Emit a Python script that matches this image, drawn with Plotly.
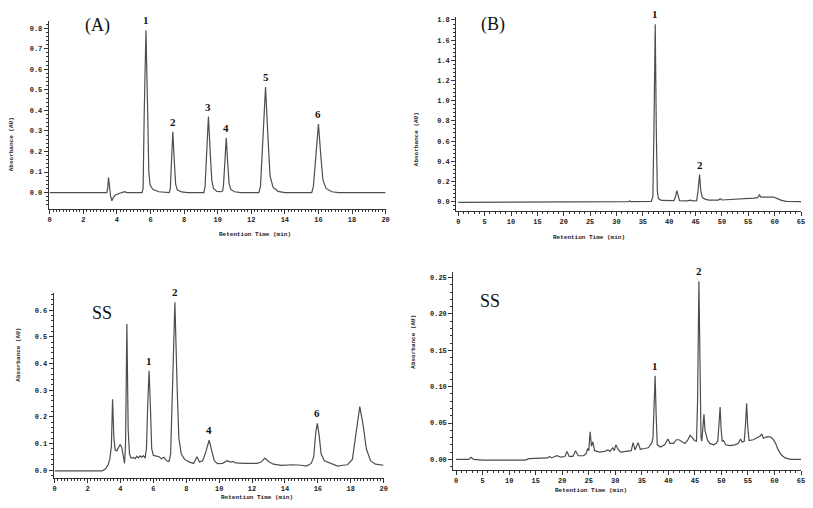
import plotly.graph_objects as go

# ---------------- data ----------------
# Panel (A): standards, 0-20 min
A_time = [0, 3.4, 3.45, 3.5, 3.56, 3.62, 3.7, 3.78, 3.9, 4.1, 4.3, 4.45, 4.6,
          5.5, 5.56, 5.63, 5.73, 5.83, 5.9, 5.98, 6.15, 6.5, 7.0,
          7.12, 7.18, 7.24, 7.33, 7.42, 7.5, 7.6, 7.85, 8.2,
          9.18, 9.25, 9.34, 9.45, 9.56, 9.65, 9.75, 9.95, 10.2,
          10.3, 10.35, 10.42, 10.51, 10.6, 10.68, 10.78, 11.0, 11.4,
          12.45, 12.55, 12.7, 12.85, 13.0, 13.12, 13.3, 13.6, 14.0,
          15.6, 15.7, 15.85, 16.0, 16.15, 16.27, 16.45, 16.8, 17.2, 20]
A_abs = [0, 0, 0.02, 0.073, 0.03, -0.015, -0.04, -0.025, -0.012, -0.004, 0.0, 0.004, 0.0,
         0.0, 0.02, 0.4, 0.79, 0.4, 0.1, 0.035, 0.015, 0.004, 0.0,
         0.0, 0.02, 0.15, 0.296, 0.15, 0.04, 0.012, 0.003, 0.0,
         0.0, 0.03, 0.19, 0.37, 0.19, 0.06, 0.02, 0.006, 0.004,
         0.008, 0.04, 0.14, 0.266, 0.14, 0.045, 0.015, 0.004, 0.0,
         0.0, 0.03, 0.26, 0.514, 0.26, 0.08, 0.025, 0.006, 0.0,
         0.0, 0.03, 0.17, 0.333, 0.17, 0.06, 0.02, 0.004, 0.0, 0.0]
A_peak_labels = ["1", "2", "3", "4", "5", "6"]
A_peak_time = [5.73, 7.33, 9.45, 10.51, 12.85, 16.0]
A_peak_abs = [0.79, 0.296, 0.37, 0.266, 0.514, 0.333]

# Panel (B): standards, 0-65 min
B_time = [0, 2.8, 3.0, 3.2, 18.0, 18.1, 32.3, 32.5, 32.7, 36.6, 36.9, 37.1, 37.35, 37.55,
          37.75, 37.95, 38.5, 40.9, 41.2, 41.45, 41.7, 41.95, 43.5, 44.0, 44.5, 45.2,
          45.45, 45.75, 46.0, 46.3, 46.8, 47.5, 49.3, 49.7, 50.0, 52, 54, 56, 56.8,
          57.1, 57.4, 58, 59, 59.8, 60.5, 61.3, 62.2, 63, 65]
B_abs = [-0.007, -0.007, 0.0, -0.007, -0.007, -0.001, 0.0, 0.006, 0.0, 0.002, 0.05, 0.7, 1.757, 0.7,
         0.1, 0.03, 0.012, 0.01, 0.05, 0.109, 0.05, 0.01, 0.008, 0.015, 0.008, 0.01,
         0.1, 0.267, 0.1, 0.04, 0.025, 0.015, 0.015, 0.028, 0.016, 0.02, 0.028, 0.035, 0.04,
         0.066, 0.045, 0.045, 0.05, 0.045, 0.03, 0.012, 0.002, 0.0, 0.0]
B_peak_labels = ["1", "2"]
B_peak_time = [37.35, 45.75]
B_peak_abs = [1.757, 0.267]

# Panel SS (left): sample, 0-20 min
C_time = [0, 2.9, 3.1, 3.25, 3.35, 3.45, 3.52, 3.6, 3.68, 3.78, 3.88, 3.98, 4.08, 4.18, 4.25,
          4.31, 4.39, 4.47, 4.55, 4.65, 4.8, 4.9, 5.0, 5.1, 5.2, 5.3, 5.4, 5.5, 5.58, 5.66,
          5.74, 5.82, 5.9, 6.0, 6.2, 6.35, 6.5, 6.65, 6.8, 6.95, 7.05, 7.15, 7.31, 7.45,
          7.55, 7.7, 7.9, 8.2, 8.45, 8.65, 8.8, 9.0, 9.2, 9.39, 9.55, 9.7, 9.9, 10.2, 10.5,
          10.7, 10.85, 11.0, 11.5, 12.3, 12.55, 12.78, 13.0, 13.3, 13.8, 14.5, 15.0, 15.3,
          15.6, 15.75, 15.87, 15.97, 16.08, 16.2, 16.4, 16.8, 17.2, 17.5, 17.8, 18.1, 18.3,
          18.55, 18.75, 18.95, 19.2, 19.5, 20]
C_abs = [-0.003, -0.003, 0.005, 0.02, 0.04, 0.09, 0.266, 0.12, 0.075, 0.072, 0.085, 0.095, 0.085, 0.045, 0.025,
         0.1, 0.548, 0.15, 0.06, 0.045, 0.047, 0.043, 0.052, 0.046, 0.053, 0.048, 0.054, 0.045, 0.08, 0.25,
         0.3725, 0.24, 0.08, 0.055, 0.052, 0.05, 0.042, 0.048, 0.035, 0.032, 0.06, 0.25, 0.63, 0.3,
         0.12, 0.06, 0.04, 0.03, 0.025, 0.05, 0.03, 0.035, 0.07, 0.112, 0.07, 0.035, 0.024, 0.025, 0.035,
         0.03, 0.032, 0.027, 0.025, 0.025, 0.03, 0.045, 0.032, 0.022, 0.018, 0.02, 0.018, 0.015,
         0.025, 0.05, 0.14, 0.175, 0.13, 0.06, 0.035, 0.025, 0.015, 0.018, 0.02, 0.04, 0.12,
         0.238, 0.17, 0.08, 0.035, 0.022, 0.018]
C_peak_labels = ["1", "2", "4", "6"]
C_peak_time = [5.74, 7.31, 9.39, 15.97]
C_peak_abs = [0.3725, 0.63, 0.112, 0.175]

# Panel SS (right): sample, 0-65 min
D_time = [0, 2.4, 2.8, 3.3, 5, 13, 13.7, 15, 15.5, 16.2, 17.2, 17.6, 18.0, 18.6, 19.0, 19.8,
          20.5, 20.9, 21.3, 22.0, 22.5, 23.0, 24.0, 24.5, 24.8, 25.0, 25.25, 25.5, 25.75, 26.1,
          27, 28, 28.6, 29.0, 29.5, 29.8, 30.1, 30.5, 31, 32, 33.0, 33.35, 33.7, 34.3, 34.7,
          35.5, 36.2, 36.6, 36.9, 37.1, 37.3, 37.5, 37.7, 37.9, 38.5, 39.3, 39.9, 40.3, 41.0,
          41.5, 42.0, 42.6, 43.1, 43.6, 44.1, 44.5, 44.9, 45.3, 45.5, 45.75, 45.95, 46.15,
          46.3, 46.5, 46.7, 46.9, 47.1, 47.4, 47.8, 48.5, 49.0, 49.3, 49.55, 49.75, 49.95,
          50.15, 50.4, 50.8, 51.5, 52.5, 53.2, 53.6, 53.9, 54.3, 54.55, 54.75, 54.95, 55.2,
          56.0, 56.8, 57.3, 57.6, 57.9, 58.5, 59.2, 59.7, 60.2, 60.7, 61.3, 62, 63, 65]
D_abs = [0.0, 0.0, 0.003, 0.0, -0.001, -0.001, 0.001, 0.001, 0.002, 0.001, 0.002, 0.004, 0.002, 0.004, 0.005, 0.003,
         0.004, 0.011, 0.004, 0.004, 0.012, 0.005, 0.005, 0.008, 0.015, 0.012, 0.038, 0.018, 0.024, 0.012,
         0.01, 0.011, 0.013, 0.011, 0.016, 0.012, 0.02, 0.014, 0.01, 0.011, 0.012, 0.023, 0.013, 0.023, 0.014,
         0.015, 0.016, 0.02, 0.023, 0.03, 0.07, 0.115, 0.06, 0.02, 0.017, 0.02, 0.028, 0.022, 0.022,
         0.027, 0.027, 0.024, 0.022, 0.026, 0.033, 0.03, 0.026, 0.025, 0.08, 0.245, 0.1, 0.03,
         0.025, 0.045, 0.062, 0.04, 0.035, 0.026, 0.022, 0.02, 0.022, 0.025, 0.05, 0.072, 0.04,
         0.025, 0.026, 0.02, 0.019, 0.02, 0.022, 0.028, 0.024, 0.025, 0.05, 0.077, 0.045, 0.026,
         0.027, 0.03, 0.032, 0.035, 0.029, 0.031, 0.031, 0.028, 0.022, 0.013, 0.006, 0.002, 0.0, 0.0]
D_peak_labels = ["1", "2"]
D_peak_time = [37.5, 45.75]
D_peak_abs = [0.115, 0.245]

X_TITLE = "Retention Time (min)"
Y_TITLE = "Absorbance (AU)"

# ---------------- figure ----------------
W, H = 813, 508
def px(x):
    return x / W
def py(y):
    return 1 - y / H

LINE = "#4d4d4d"
AX = "#333333"
tickfont = dict(family="Liberation Mono", size=7, color="#222222", weight="bold")

fig = go.Figure()

panels = [
    ("1", A_time, A_abs, (48, 387, 20, 208), [-0.06, 20.0], [-0.078, 0.835], 2, 0.2, 0.1, 0.02, ".1f"),
    ("2", B_time, B_abs, (458, 805, 16, 210), [-0.4, 65.0], [-0.089, 1.83], 5, 1, 0.2, 0.04, ".1f"),
    ("3", C_time, C_abs, (53, 385, 293, 478), [-0.06, 20.0], [-0.03, 0.663], 2, 0.2, 0.1, 0.02, ".1f"),
    ("4", D_time, D_abs, (455, 805, 272, 470), [-0.55, 65.0], [-0.0147, 0.257], 5, 1, 0.05, 0.01, ".2f"),
]

for name, t, a, dom, xr, yr, xd, xm, yd, ym, fmt in panels:
    xa = "x" if name == "1" else "x" + name
    ya = "y" if name == "1" else "y" + name
    fig.add_trace(go.Scatter(x=t, y=a, mode="lines", xaxis=xa, yaxis=ya,
                             line=dict(color=LINE, width=1.2), showlegend=False,
                             hoverinfo="skip"))
    x0, x1, yt, yb = dom
    common = dict(showline=True, linecolor=AX, linewidth=1, ticks="outside",
                  ticklen=4, tickwidth=1, tickcolor=AX, showgrid=False,
                  zeroline=False, tickfont=tickfont, ticklabeloverflow="allow")
    xkey = "xaxis" if name == "1" else "xaxis" + name
    ykey = "yaxis" if name == "1" else "yaxis" + name
    fig.layout[xkey] = dict(common, domain=[px(x0), px(x1)], range=xr, anchor=ya,
                            dtick=xd, tick0=0,
                            minor=dict(ticks="outside", ticklen=2, tickwidth=1, tickcolor=AX,
                                       dtick=xm, tick0=0, showgrid=False))
    fig.layout[ykey] = dict(common, domain=[py(yb), py(yt)], range=yr, anchor=xa,
                            dtick=yd, tick0=0, tickformat=fmt,
                            minor=dict(ticks="outside", ticklen=2, tickwidth=1, tickcolor=AX,
                                       dtick=ym, tick0=0, showgrid=False))

annotations = []
ytitle_pos = [(5, 114), (418, 109), (12, 383), (415, 370)]
xtitle_pos = [(217, 234), (630, 237), (219, 503), (632, 496)]
for (x, y) in ytitle_pos:
    annotations.append(dict(text=Y_TITLE, x=px(x), y=py(y), xref="paper", yref="paper",
                            showarrow=False, textangle=-90,
                            font=dict(family="Liberation Mono", size=6, color="#222", weight="bold")))
for (x, y) in xtitle_pos:
    annotations.append(dict(text=X_TITLE, x=px(x), y=py(y), xref="paper", yref="paper",
                            showarrow=False,
                            font=dict(family="Liberation Mono", size=6, color="#222", weight="bold")))

serif = "Liberation Serif"
for txt, x, y in [("(A)", 83, 12), ("(B)", 495, 11), ("SS", 90, 313), ("SS", 492, 301)]:
    annotations.append(dict(text=txt, x=px(x), y=py(y), xref="paper", yref="paper",
                            showarrow=False, font=dict(family=serif, size=18, color="#111")))

for (labels, times, absv, xa, ya) in [
        (A_peak_labels, A_peak_time, A_peak_abs, "x", "y"),
        (B_peak_labels, B_peak_time, B_peak_abs, "x2", "y2"),
        (C_peak_labels, C_peak_time, C_peak_abs, "x3", "y3"),
        (D_peak_labels, D_peak_time, D_peak_abs, "x4", "y4")]:
    for lab, t, a in zip(labels, times, absv):
        annotations.append(dict(text=lab, x=t, y=a, xref=xa, yref=ya, showarrow=False,
                                yanchor="bottom", yshift=2,
                                font=dict(family=serif, size=11, color="#111", weight="bold")))

fig.update_layout(width=W, height=H, margin=dict(l=0, r=0, t=0, b=0),
                  plot_bgcolor="white", paper_bgcolor="white",
                  annotations=annotations)

fig.write_html("out.html", config={"displayModeBar": False},
               post_script="document.body.style.margin='0';document.body.style.overflow='hidden';")
